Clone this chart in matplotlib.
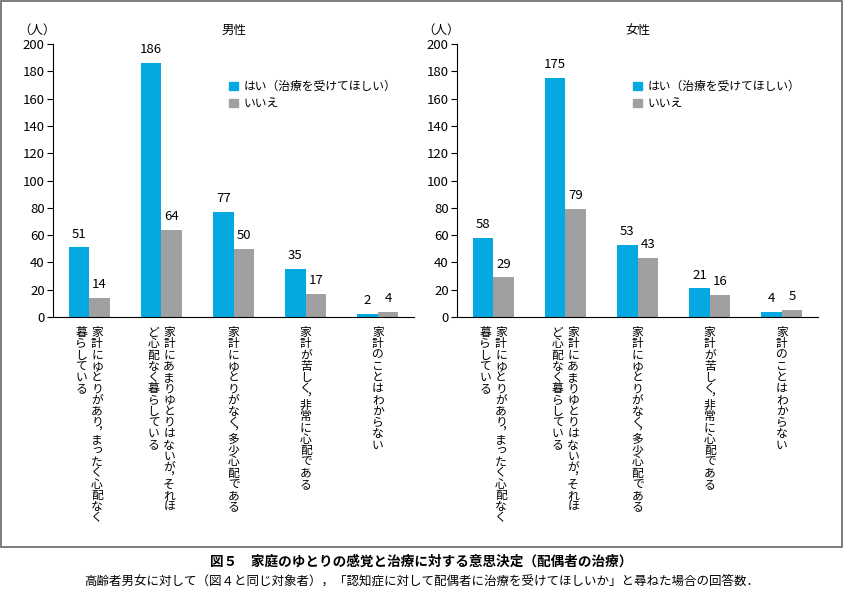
import matplotlib.pyplot as plt
from matplotlib.patches import Rectangle, Patch

plt.rcParams['font.family'] = ['Noto Sans CJK JP', 'DejaVu Sans']

# data
categories = [
    ['家計にゆとりがあり︐まったく心配なく', '暮らしている'],
    ['家計にあまりゆとりはないが︐それほ', 'ど心配なく暮らしている'],
    ['家計にゆとりがなく︐多少心配である'],
    ['家計が苦しく︐非常に心配である'],
    ['家計のことはわからない'],
]
panels = ['男性', '女性']
yes_men = [51, 186, 77, 35, 2]
no_men = [14, 64, 50, 17, 4]
yes_women = [58, 175, 53, 21, 4]
no_women = [29, 79, 43, 16, 5]
series_names = ['はい（治療を受けてほしい）', 'いいえ']
yticks = list(range(0, 201, 20))

BLUE = '#05a9e1'
GRAY = '#a0a0a2'

W, H = 843, 590
fig = plt.figure(figsize=(W / 100, H / 100), dpi=100)

# outer frame
fig.patches.append(Rectangle((0.5 / W, 1 - 547 / H), 841.5 / W, 546.5 / H,
                             transform=fig.transFigure, fill=False,
                             edgecolor='#666666', lw=1.2))


def px_axes(x0, x1, ytop, ybot):
    return [x0 / W, 1 - ybot / H, (x1 - x0) / W, (ybot - ytop) / H]


def vertical_label(ax, i, col, dx):
    # stack characters top to bottom, upright (tategaki)
    pitch = 8.1
    y = -13.7
    for ch in col:
        ax.annotate(ch, xy=(i, 0), xycoords=('data', 'axes fraction'),
                    xytext=(dx, y), textcoords='offset points', ha='center',
                    va='baseline', fontsize=8.5, annotation_clip=False)
        y -= pitch / 2 if ch == '︐' else pitch


def draw_panel(ax, title, yes, no):
    x = range(len(yes))
    bw = 0.285
    ax.bar([i - bw / 2 for i in x], yes, bw, color=BLUE)
    ax.bar([i + bw / 2 for i in x], no, bw, color=GRAY)
    for i in x:
        ax.text(i - bw / 2, yes[i] + 5, str(yes[i]), ha='center', va='bottom',
                fontsize=9.5)
        ax.text(i + bw / 2, no[i] + 5, str(no[i]), ha='center', va='bottom',
                fontsize=9.5)
    ax.set_xlim(-0.5, len(yes) - 0.5)
    ax.set_ylim(0, 200)
    ax.set_yticks(yticks)
    ax.tick_params(axis='y', labelsize=9.5, length=4, width=0.8, pad=2)
    ax.tick_params(axis='x', length=0, labelbottom=False)
    for s in ['top', 'right']:
        ax.spines[s].set_visible(False)
    for s in ['left', 'bottom']:
        ax.spines[s].set_linewidth(0.8)
    ax.text(0.5, 1.05, title, transform=ax.transAxes, ha='center',
            va='center', fontsize=9)
    ax.text(-0.045, 1.05, '（人）', transform=ax.transAxes, ha='center',
            va='center', fontsize=9)

    for i, cols in enumerate(categories):
        n = len(cols)
        for c, col in enumerate(cols):
            vertical_label(ax, i, col, ((n - 1) / 2 - c) * 11.2)

    handles = [Patch(color=BLUE), Patch(color=GRAY)]
    ax.legend(handles, series_names, loc='upper left',
              bbox_to_anchor=(0.475, 0.885), frameon=False, fontsize=8.5,
              handlelength=0.75, handleheight=0.75, handletextpad=0.5,
              labelspacing=0.35, borderaxespad=0)


ax1 = fig.add_axes(px_axes(53, 414, 44, 317))
ax2 = fig.add_axes(px_axes(457, 818, 44, 317))
draw_panel(ax1, panels[0], yes_men, no_men)
draw_panel(ax2, panels[1], yes_women, no_women)

fig.text(0.5, 1 - 562 / H, '図５　家庭のゆとりの感覚と治療に対する意思決定（配偶者の治療）',
         ha='center', va='center', fontsize=9.8, fontweight='bold')
fig.text(0.5, 1 - 581 / H,
         '高齢者男女に対して（図４と同じ対象者），「認知症に対して配偶者に治療を受けてほしいか」と尋ねた場合の回答数．',
         ha='center', va='center', fontsize=9)

fig.savefig('out.png', dpi=100)
